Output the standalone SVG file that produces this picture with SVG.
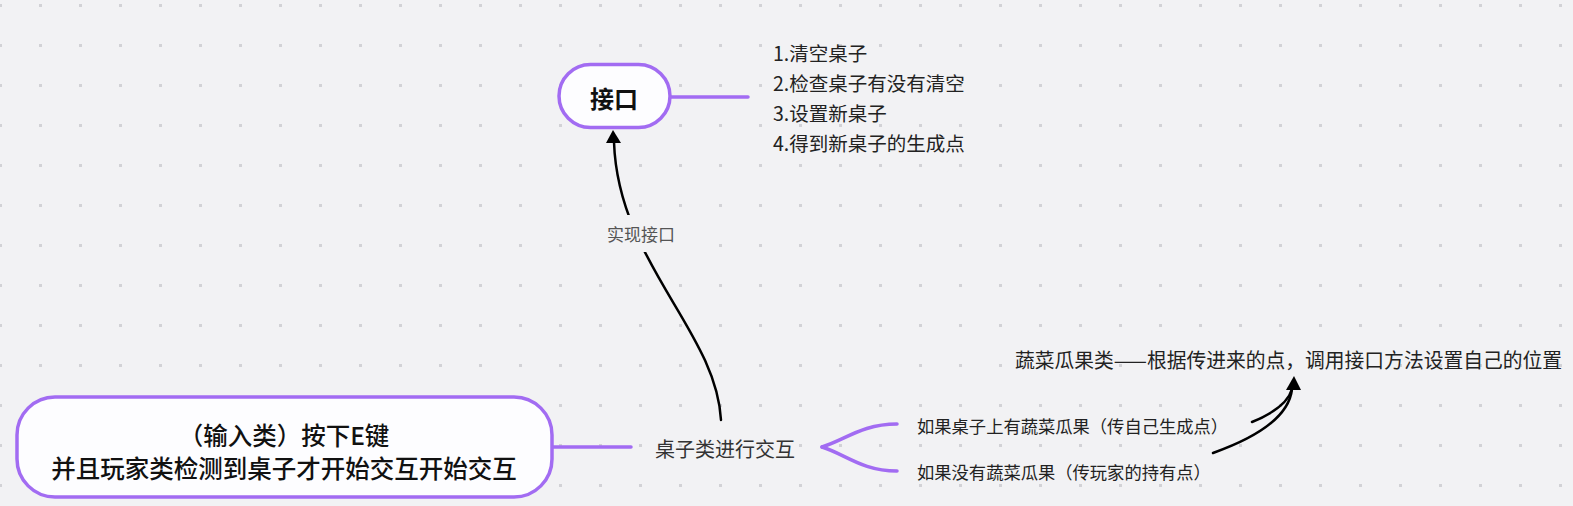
<svg xmlns="http://www.w3.org/2000/svg" width="1573" height="506" viewBox="0 0 1573 506">
<defs>
<pattern id="dots" x="-1" y="4" width="40" height="40" patternUnits="userSpaceOnUse">
<rect x="0" y="0" width="3" height="3" fill="#d2d2d6"/>
</pattern>
<style>
.t{font-family:"Noto Sans CJK SC","Noto Sans",sans-serif;dominant-baseline:central;}
.node{fill:#fdfdff;stroke:#a26cf2;stroke-width:3.5;}
.branch{fill:none;stroke:#a26cf2;stroke-width:3.5;stroke-linecap:round;}
.rel{fill:none;stroke:#000;stroke-width:2.5;stroke-linecap:round;}
</style>
</defs>
<rect width="1573" height="506" fill="#f2f2f4"/>
<rect width="1573" height="506" fill="url(#dots)"/>

<g id="connectors">
<path class="branch" d="M670,97 L748,97"/>
<path class="branch" d="M552,447 L631,447"/>
<path class="branch" d="M822,447 C845,440 862,424 897,424"/>
<path class="branch" d="M822,447 C845,454 862,471 897,471"/>
<path class="rel" d="M721,420 C716,330 618,262 614,142" />
<path d="M613,130 L606,143 L621,143 Z" fill="#000"/>
<rect x="597" y="215" width="86" height="37" fill="#f2f2f4"/>
<text class="t" x="641" y="233" font-size="17" fill="#555" text-anchor="middle">实现接口</text>
<path class="rel" d="M1213,453 C1258,437 1289,417 1292,389"/>
<path class="rel" d="M1252,422 C1274,413 1288,403 1292,389"/>
<path d="M1294,376 L1286,390 L1301,390 Z" fill="#000"/>
</g>

<g id="node-interface">
<rect class="node" x="559" y="64.5" width="111" height="63" rx="31.5"/>
<text class="t" x="614" y="97" font-size="24" font-weight="700" fill="#111" text-anchor="middle">接口</text>
</g>

<g id="node-interface-list">
<text class="t" x="773" y="52" font-size="19.5" fill="#222">1.清空桌子</text>
<text class="t" x="773" y="82" font-size="19.5" fill="#222">2.检查桌子有没有清空</text>
<text class="t" x="773" y="112" font-size="19.5" fill="#222">3.设置新桌子</text>
<text class="t" x="773" y="142" font-size="19.5" fill="#222">4.得到新桌子的生成点</text>
</g>

<g id="node-input">
<rect class="node" x="17" y="397" width="535" height="100" rx="38"/>
<text class="t" x="284" y="434" font-size="24.5" font-weight="500" fill="#111" text-anchor="middle">（输入类）按下E键</text>
<text class="t" x="284" y="467" font-size="24.5" font-weight="500" fill="#111" text-anchor="middle">并且玩家类检测到桌子才开始交互开始交互</text>
</g>

<g id="node-table">
<text class="t" x="655" y="448" font-size="20" fill="#333">桌子类进行交互</text>
</g>

<g id="node-has-veg">
<text class="t" x="917" y="425" font-size="17.3" fill="#222">如果桌子上有蔬菜瓜果（传自己生成点）</text>
</g>

<g id="node-no-veg">
<text class="t" x="917" y="471" font-size="17.3" fill="#222">如果没有蔬菜瓜果（传玩家的持有点）</text>
</g>

<g id="node-veg-class">
<text class="t" x="1015" y="359" font-size="20" fill="#222" textLength="547" lengthAdjust="spacingAndGlyphs">蔬菜瓜果类——根据传进来的点，调用接口方法设置自己的位置</text>
</g>
</svg>
